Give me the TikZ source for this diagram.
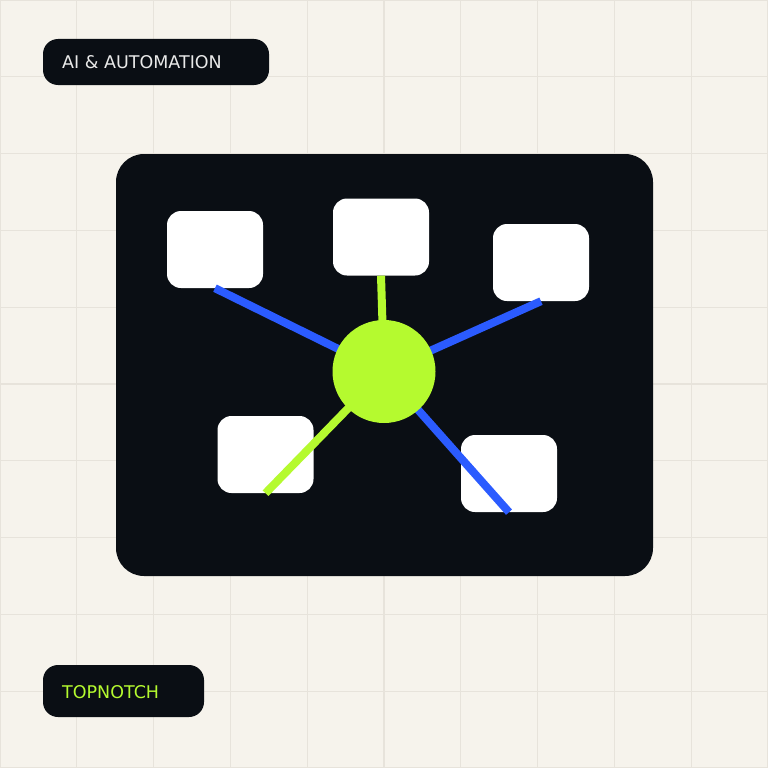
\documentclass[tikz,border=0pt]{standalone}
\usepackage{fontspec}
\setmainfont{DejaVu Sans}
\definecolor{bgc}{HTML}{F6F3EC}
\definecolor{gridc}{HTML}{E7E3DB}
\definecolor{darkc}{HTML}{0A0E14}
\definecolor{limec}{HTML}{B5FA2F}
\definecolor{bluec}{HTML}{2B5BFF}
\definecolor{pilltxt}{HTML}{E9E9E9}
\tikzset{
  card/.style={fill=white, rounded corners=14pt, minimum width=96pt, minimum height=77pt, inner sep=0pt},
  link/.style={line width=8pt, line cap=butt},
  pill/.style={fill=darkc, rounded corners=15pt},
  pilltext/.style={anchor=base west, inner sep=0pt, font=\fontsize{17.5}{20}\selectfont},
}
\begin{document}
\begin{tikzpicture}[x=1pt,y=-1pt]
\useasboundingbox (0,0) rectangle (768,768);
\fill[bgc] (0,0) rectangle (768,768);
\foreach \k in {0,...,10} {
  \draw[gridc, line width=1.1pt] (\k*76.8,0) -- (\k*76.8,768);
  \draw[gridc, line width=1.1pt] (0,\k*76.8) -- (768,\k*76.8);
}
% labels
\fill[pill] (43,39) rectangle (269,85);
\node[pilltext, text=pilltxt] (title) at (62,69) {AI \& AUTOMATION};
\fill[pill] (43,665) rectangle (204,717);
\node[pilltext, text=limec] (brand) at (62,698) {TOPNOTCH};
% panel
\fill[darkc, rounded corners=28pt] (116,154) rectangle (653,576);
% cards
\node[card] (c1) at (215,249.5) {};
\node[card] (c2) at (381,237) {};
\node[card] (c3) at (541,262.5) {};
\node[card] (c4) at (265.5,454.5) {};
\node[card] (c5) at (509,473.5) {};
\coordinate (hubc) at (384,371.5);
\draw[link, bluec] (c1.south) -- (hubc);
\draw[link, limec] (c2.south) -- (hubc);
\draw[link, bluec] (c3.south) -- (hubc);
\draw[link, limec] (c4.south) -- (hubc);
\draw[link, bluec] (c5.south) -- (hubc);
\node[circle, fill=limec, minimum size=103pt, inner sep=0pt] (hub) at (hubc) {};
\end{tikzpicture}
\end{document}
